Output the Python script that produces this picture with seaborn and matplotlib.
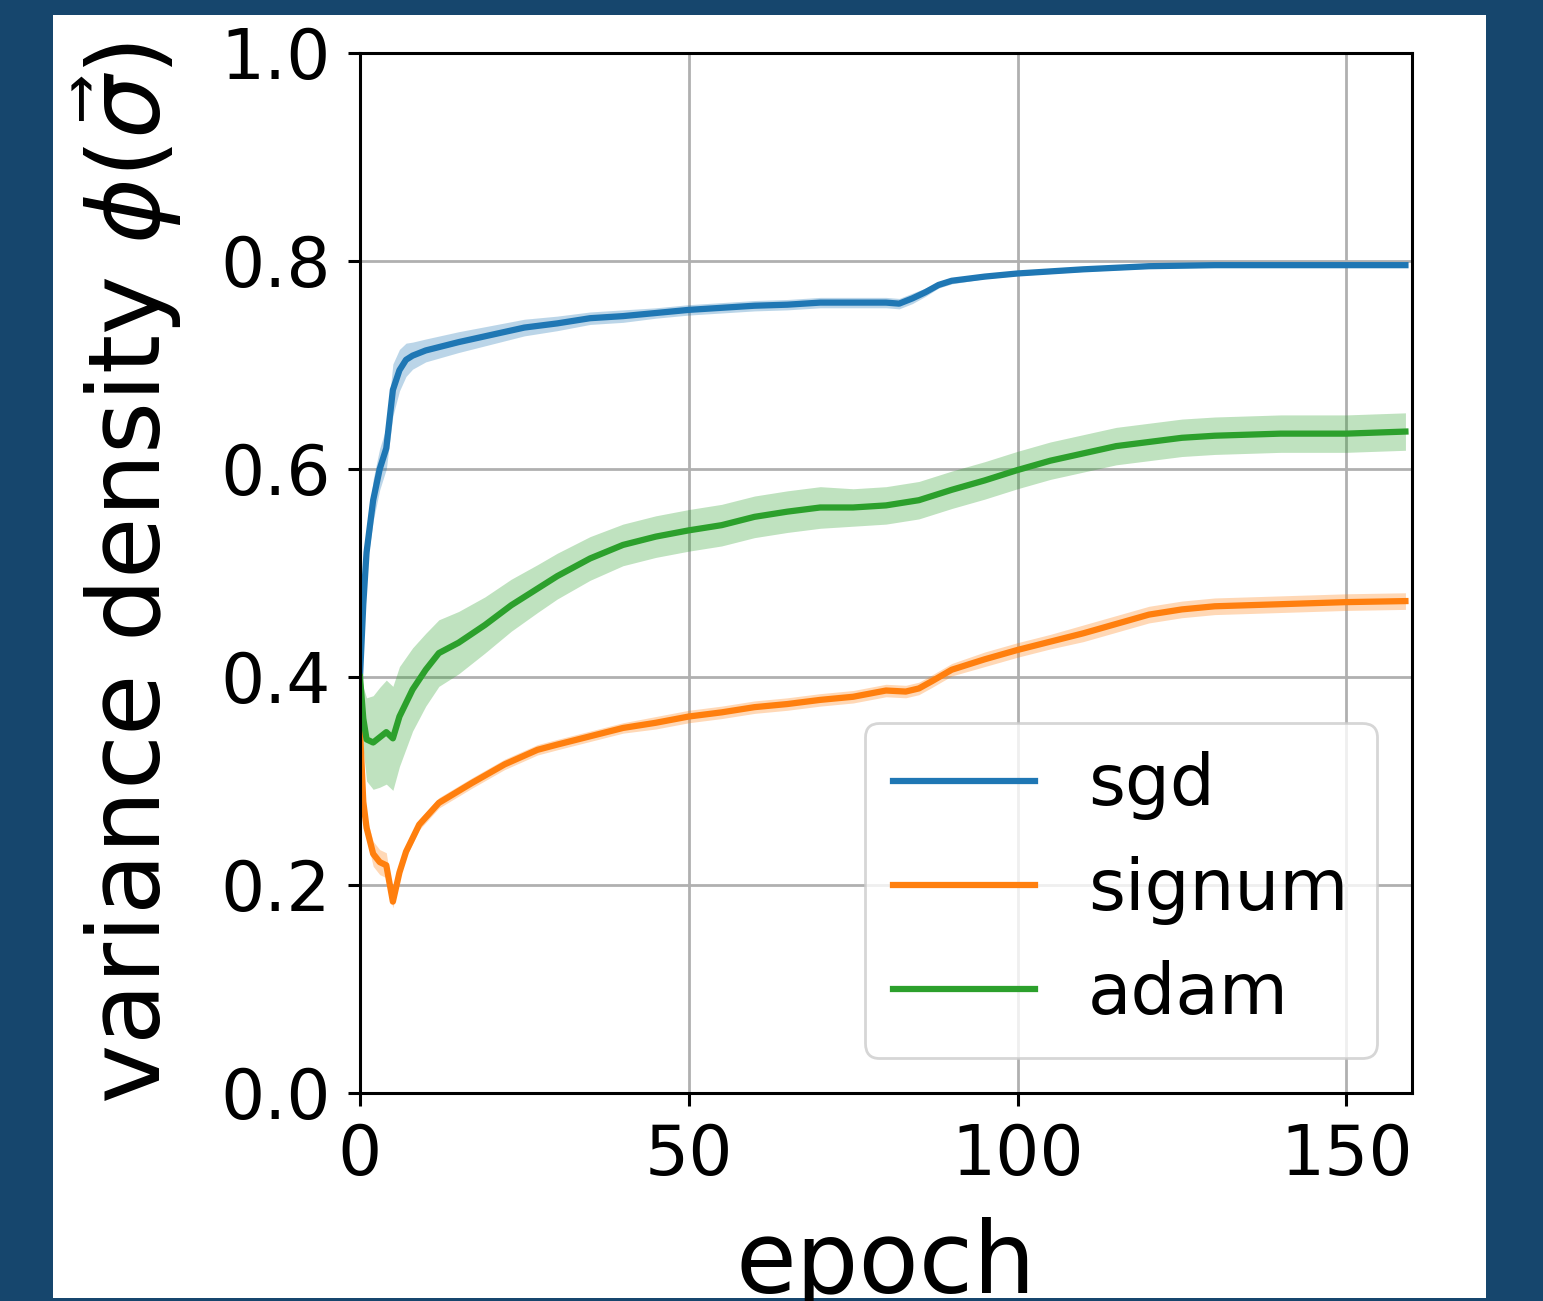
import matplotlib
matplotlib.use("Agg")
import matplotlib.pyplot as plt
import seaborn as sns
import numpy as np
import pandas as pd
from matplotlib.patches import Rectangle

# ---- data ----
sgd_epoch = [0, 0.5, 1, 2, 3, 3.5, 4, 5, 6, 7, 8, 10, 15, 20, 25, 30, 35, 40, 45, 50, 55, 60, 65, 70, 75, 80, 82, 84, 86, 88, 90, 95, 100, 105, 110, 120, 130, 140, 150, 159]
sgd_mean = [0.40, 0.47, 0.52, 0.57, 0.60, 0.61, 0.62, 0.676, 0.695, 0.705, 0.709, 0.714, 0.722, 0.729, 0.736, 0.740, 0.745, 0.747, 0.750, 0.753, 0.755, 0.757, 0.758, 0.760, 0.760, 0.760, 0.759, 0.764, 0.770, 0.777, 0.781, 0.785, 0.788, 0.790, 0.792, 0.795, 0.796, 0.796, 0.796, 0.796]
sgd_band = [0.005, 0.01, 0.015, 0.02, 0.02, 0.02, 0.02, 0.025, 0.02, 0.016, 0.013, 0.011, 0.010, 0.009, 0.008, 0.007, 0.006, 0.006, 0.005, 0.005, 0.005, 0.005, 0.005, 0.005, 0.005, 0.005, 0.005, 0.005, 0.004, 0.003, 0.003, 0.002, 0.002, 0.002, 0.002, 0.002, 0.002, 0.002, 0.002, 0.002]

signum_epoch = [0, 0.5, 1, 2, 3, 4, 5, 6, 7, 9, 12, 17, 22, 27, 30, 35, 40, 45, 50, 55, 60, 65, 70, 75, 80, 83, 85, 87, 90, 95, 100, 105, 110, 115, 120, 125, 130, 140, 150, 159]
signum_mean = [0.35, 0.28, 0.255, 0.23, 0.222, 0.219, 0.184, 0.212, 0.232, 0.258, 0.279, 0.298, 0.316, 0.330, 0.335, 0.343, 0.351, 0.356, 0.362, 0.366, 0.371, 0.374, 0.378, 0.381, 0.387, 0.386, 0.389, 0.396, 0.407, 0.417, 0.426, 0.434, 0.442, 0.451, 0.460, 0.465, 0.468, 0.470, 0.472, 0.473]
signum_band = [0.005, 0.008, 0.01, 0.012, 0.012, 0.012, 0.006, 0.005, 0.005, 0.005, 0.005, 0.005, 0.005, 0.005, 0.005, 0.005, 0.005, 0.006, 0.006, 0.006, 0.006, 0.006, 0.006, 0.006, 0.006, 0.006, 0.006, 0.006, 0.006, 0.007, 0.007, 0.007, 0.008, 0.008, 0.008, 0.008, 0.008, 0.008, 0.008, 0.008]

adam_epoch = [0, 0.5, 1, 2, 3, 4, 5, 6, 8, 10, 12, 15, 19, 23, 27, 30, 35, 40, 45, 50, 55, 60, 65, 70, 75, 80, 85, 90, 95, 100, 105, 110, 115, 120, 125, 130, 135, 140, 150, 159]
adam_mean = [0.40, 0.36, 0.340, 0.337, 0.342, 0.347, 0.341, 0.362, 0.388, 0.407, 0.423, 0.433, 0.450, 0.469, 0.485, 0.497, 0.514, 0.527, 0.535, 0.541, 0.546, 0.554, 0.559, 0.563, 0.563, 0.565, 0.570, 0.580, 0.589, 0.599, 0.608, 0.615, 0.622, 0.626, 0.630, 0.632, 0.633, 0.634, 0.634, 0.636]
adam_band = [0.01, 0.03, 0.04, 0.045, 0.048, 0.05, 0.05, 0.048, 0.04, 0.035, 0.032, 0.03, 0.027, 0.025, 0.023, 0.022, 0.021, 0.02, 0.02, 0.02, 0.02, 0.02, 0.02, 0.02, 0.018, 0.018, 0.018, 0.018, 0.018, 0.018, 0.018, 0.018, 0.018, 0.018, 0.018, 0.018, 0.018, 0.018, 0.018, 0.018]

series_names = ["sgd", "signum", "adam"]
x_ticks = [0, 50, 100, 150]
y_ticks = [0.0, 0.2, 0.4, 0.6, 0.8, 1.0]

colors = ["#1f77b4", "#ff7f0e", "#2ca02c"]

fig = plt.figure(figsize=(15.43, 13.01), dpi=100, facecolor="#16466d")
bg = Rectangle((53 / 1543, 3 / 1301), (1486 - 53) / 1543, (1298 - 15) / 1301,
               transform=fig.transFigure, facecolor="white", edgecolor="none", zorder=-10)
fig.add_artist(bg)
ax = fig.add_axes([360 / 1543, 1 - 1093 / 1301, (1412 - 360) / 1543, (1093 - 53) / 1301])
ax.set_zorder(1)
ax.set_facecolor("white")

data = [(sgd_epoch, sgd_mean, sgd_band), (signum_epoch, signum_mean, signum_band), (adam_epoch, adam_mean, adam_band)]
frames = []
for name, (ep, m, b) in zip(series_names, data):
    frames.append(pd.DataFrame({"epoch": ep, "value": m, "band": b, "optimizer": name}))
df = pd.concat(frames, ignore_index=True)

for name, c in zip(series_names, colors):
    d = df[df.optimizer == name]
    ax.fill_between(d.epoch, d.value - d.band, d.value + d.band, color=c, alpha=0.3, linewidth=0)

sns.lineplot(data=df, x="epoch", y="value", hue="optimizer", palette=colors,
             hue_order=series_names, ax=ax, linewidth=4.5, errorbar=None)

ax.set_xlim(0, 160)
ax.set_ylim(0, 1.0)
ax.set_xticks(x_ticks)
ax.set_yticks(y_ticks)
ax.set_xticklabels([str(t) for t in x_ticks])
ax.set_yticklabels([f"{t:.1f}" for t in y_ticks])
ax.grid(True, color="#b0b0b0", linewidth=2.0)
ax.set_axisbelow(True)
for s in ax.spines.values():
    s.set_linewidth(2.2)
    s.set_color("black")
ax.tick_params(axis="both", labelsize=50, length=9, width=2.2, pad=12, colors="black")
ax.set_xlabel("epoch", fontsize=71, labelpad=20)
ax.set_ylabel(r"variance density $\phi(\vec{\sigma})$", fontsize=72, labelpad=26)

leg = ax.legend(loc="lower right", fontsize=51, framealpha=0.8, borderpad=0.4,
                labelspacing=0.5, handlelength=2.0, handletextpad=0.75)
for line in leg.get_lines():
    line.set_linewidth(4.5)
leg.get_frame().set_linewidth(2)

fig.savefig("out.png", dpi=100, facecolor=fig.get_facecolor())
